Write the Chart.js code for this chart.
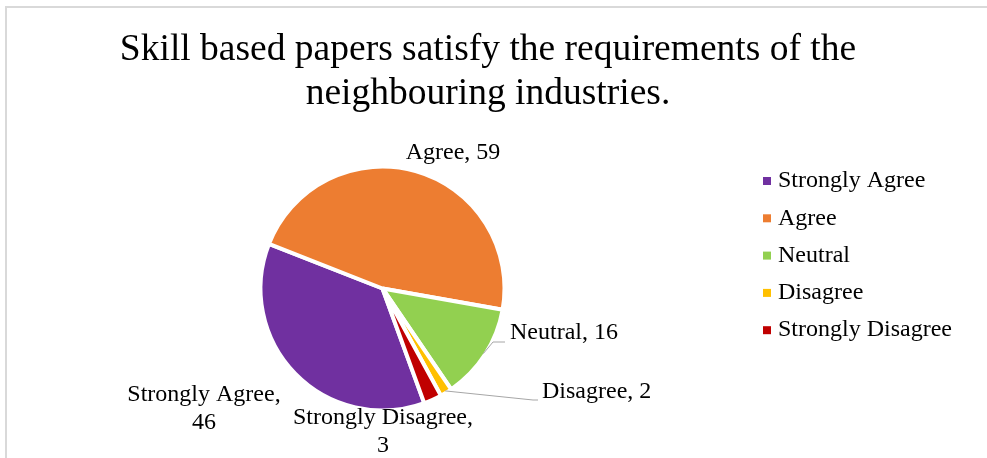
<!DOCTYPE html>
<html>
<head>
<meta charset="utf-8">
<script src="https://cdn.jsdelivr.net/npm/chart.js@4.4.0/dist/chart.umd.min.js"></script>
<style>
  html, body { margin: 0; padding: 0; background: #fff; overflow: hidden; }
  #wrap { position: relative; width: 987px; height: 458px; }
  #frame { position: absolute; left: 5px; top: 6px; width: 1000px; height: 500px; border: 2px solid #d9d9d9; }
  #myChart { position: absolute; left: 0; top: 0; }
</style>
</head>
<body>
<div id="wrap">
  <div id="frame"></div>
  <canvas id="myChart" width="987" height="458"></canvas>
</div>
<script>
const categories = ["Strongly Agree", "Agree", "Neutral", "Disagree", "Strongly Disagree"];
const responses = [46, 59, 16, 2, 3];
const sliceColors = ["#7030A0", "#ED7D31", "#92D050", "#FFC000", "#C00000"];
const titleLines = ["Skill based papers satisfy the requirements of the", "neighbouring industries."];

const serif = '"Liberation Serif", "Times New Roman", serif';

// where each data label sits, relative to the pie centre
const labelPlacement = [
  { dx: -178.5, dy: 106.5, align: "center", wrap: true },
  { dx: 70.5, dy: -135.5, align: "center" },
  { dx: 127.5, dy: 44.5, align: "left", leader: [[110.5, 53.5], [122.5, 53.5]] },
  { dx: 159.5, dy: 103.5, align: "left", leader: [[150.5, 111.5], [155.5, 111.5]] },
  { dx: 0.5, dy: 129.5, align: "center", wrap: true },
];

const decorations = {
  id: "decorations",
  afterDatasetsDraw(chart) {
    const ctx = chart.ctx;
    const arcs = chart.getDatasetMeta(0).data;
    ctx.save();

    // title
    ctx.fillStyle = "#000";
    ctx.textAlign = "center";
    ctx.textBaseline = "alphabetic";
    ctx.font = "37.5px " + serif;
    titleLines.forEach((line, i) => ctx.fillText(line, 488, 60 + i * 44));

    // data labels
    ctx.font = "24px " + serif;
    ctx.textBaseline = "middle";
    arcs.forEach((arc, i) => {
      const p = labelPlacement[i];
      const cx = arc.x, cy = arc.y;
      if (p.leader) {
        const mid = (arc.startAngle + arc.endAngle) / 2;
        const r = arc.outerRadius - 2;
        ctx.strokeStyle = "#a6a6a6";
        ctx.lineWidth = 1;
        ctx.beginPath();
        ctx.moveTo(cx + Math.cos(mid) * r, cy + Math.sin(mid) * r);
        p.leader.forEach(([lx, ly]) => ctx.lineTo(cx + lx, cy + ly));
        ctx.stroke();
      }
      const lines = p.wrap
        ? [categories[i] + ",", String(responses[i])]
        : [categories[i] + ", " + responses[i]];
      ctx.textAlign = p.align;
      lines.forEach((t, k) => ctx.fillText(t, cx + p.dx, cy + p.dy + k * 28));
    });

    // legend
    ctx.textAlign = "left";
    categories.forEach((name, i) => {
      const y = 181 + i * 37.3;
      ctx.fillStyle = sliceColors[i];
      ctx.fillRect(763, y - 4, 8, 8);
      ctx.fillStyle = "#000";
      ctx.fillText(name, 778, y);
    });
    ctx.restore();
  },
};

const ctx = document.getElementById("myChart").getContext("2d");

const myChart = new Chart(ctx, {
  type: "pie",
  data: {
    labels: categories,
    datasets: [
      {
        data: responses,
        backgroundColor: sliceColors,
        borderColor: "#ffffff",
        borderWidth: 4,
        hoverOffset: 0,
      },
    ],
  },
  options: {
    responsive: false,
    animation: false,
    events: [],
    rotation: 160,
    layout: {
      padding: { top: 164.5, bottom: 45.5, left: 12, right: 234 },
    },
    plugins: {
      legend: { display: false },
      title: { display: false },
      tooltip: { enabled: false },
    },
  },
  plugins: [decorations],
});
</script>
</body>
</html>
